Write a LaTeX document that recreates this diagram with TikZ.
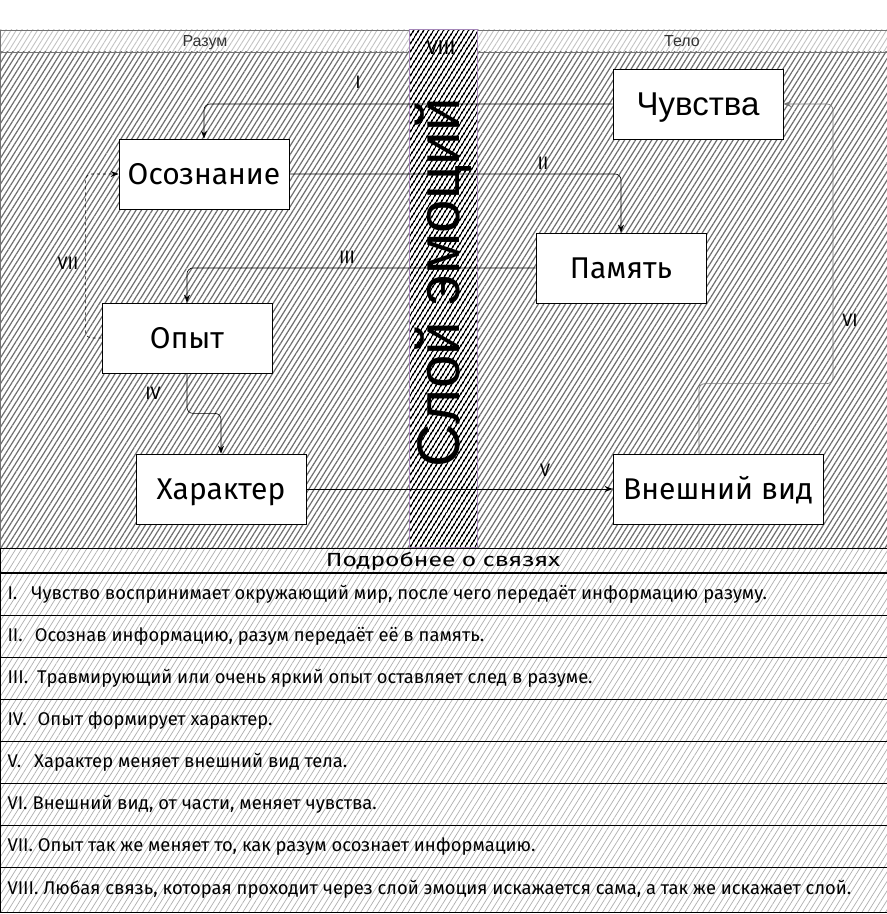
\documentclass[tikz,border=0pt]{standalone}
\usepackage{fontspec}
\setmainfont{Fira Sans}
\newfontfamily\arialfont{Liberation Sans}
\usepackage{tikz}
\usetikzlibrary{arrows.meta,positioning,patterns.meta,calc}
\definecolor{HatchGray}{RGB}{110,110,110}
\definecolor{HeadGray}{RGB}{195,195,195}
\definecolor{TableGray}{RGB}{175,175,175}
\definecolor{FrameGray}{RGB}{115,115,115}
\definecolor{LayerPurple}{RGB}{165,135,185}

\tikzset{
  hatchbody/.style={pattern={Lines[angle=58,distance=4.6pt,line width=1.2pt]}, pattern color=HatchGray},
  hatchhead/.style={pattern={Lines[angle=58,distance=4.5pt,line width=0.9pt]}, pattern color=HeadGray},
  hatchlayer/.style={pattern={Lines[angle=58,distance=4pt,line width=1.6pt]}, pattern color=black},
  hatchtable/.style={pattern={Lines[angle=58,distance=5pt,line width=0.7pt]}, pattern color=TableGray},
  box/.style={draw=black, line width=0.8pt, fill=white, minimum width=170pt,
    minimum height=70pt, inner sep=0pt, text height=21pt, text depth=0pt,
    font=\fontsize{30}{36}\selectfont},
  link/.style={-{Stealth[length=8pt,width=6pt]}, line width=0.6pt, rounded corners=6pt},
  numlabel/.style={font=\fontsize{18}{20}\selectfont},
  headtext/.style={anchor=base, font=\arialfont\fontsize{16}{18}\selectfont, text=black!80},
  rowtext/.style={anchor=west, font=\fontsize{18.4}{20}\selectfont},
}

\begin{document}
\begin{tikzpicture}[x=1pt, y=1pt]
  \useasboundingbox[fill=white] (0,0) rectangle (887,914);
  % Разум / Тело
  \filldraw[hatchhead, draw=FrameGray, line width=0.8pt] (0,862) rectangle (409,884);
  \filldraw[hatchhead, draw=FrameGray, line width=0.8pt] (477,862) rectangle (887,884);
  \filldraw[hatchbody, draw=FrameGray, line width=0.8pt] (0,366) rectangle (409,862);
  \filldraw[hatchbody, draw=FrameGray, line width=0.8pt] (477,366) rectangle (887,862);
  \node[headtext] (razum) at (205,867) {Разум};
  \node[headtext] (telo) at (682,867) {Тело};
  % слой эмоций
  \filldraw[hatchlayer, draw=LayerPurple, line width=1pt] (409,366) rectangle (477,884);

  \node[box] (osozn) at (204,740) {Осознание};
  \node[box, text height=23.5pt, font=\arialfont\fontsize{33}{38}\selectfont] (chuv) at (698,810) {Чувства};
  \node[box] (pamyat) at (621,646) {Память};
  \node[box] (opyt) at (187,576) {Опыт};
  \node[box] (harakter) at (221,425) {Характер};
  \node[box, minimum width=210pt] (vneshn) at (718,425) {Внешний вид};

  \draw[link] (chuv.west) -| (osozn.north);
  \draw[link] (osozn.east) -| (pamyat.north);
  \draw[link] (pamyat.west) -| (opyt.north);
  \draw[link] (opyt.south) -- ++(0,-40) -| (harakter.north);
  \draw[link] (harakter.east) -- (vneshn.west);
  \draw[link, draw=FrameGray] ([xshift=-19pt]vneshn.north) -- ++(0,70) -- ++(134,0) |- (chuv.east);
  \draw[link, dashed] (opyt.west) -- ++(-16,0) |- (osozn.west);

  \node[numlabel] (l1) at (358,832) {I};
  \node[numlabel] (l2) at (543,751) {II};
  \node[numlabel] (l3) at (347,657) {III};
  \node[numlabel] (l4) at (153,521) {IV};
  \node[numlabel] (l5) at (545,444) {V};
  \node[numlabel] (l6) at (850,594) {VI};
  \node[numlabel] (l7) at (68,651) {VII};
  \node[numlabel, font=\fontsize{20}{22}\selectfont] (l8) at (441,866) {VIII};

  \node[rotate=90, font=\arialfont\fontsize{60}{60}\selectfont] (layer) at (443,631) {Слой эмоций};

  % таблица
  \filldraw[hatchtable, draw=black, line width=0.8pt] (0,2) rectangle (887,366);
  \draw[line width=1.4pt] (0,341) -- (887,341);
  \node[font=\fontsize{19}{20}\selectfont] (tabhead) at (443,353) {\scalebox{1.3}[1]{Подробнее о связях}};
  \foreach \k in {1,...,7}
    \draw[line width=0.8pt] (0,{341-42.125*\k}) -- (887,{341-42.125*\k});
  \foreach \txt [count=\k] in {
      {I.\hspace{14pt}Чувство воспринимает окружающий мир, после чего передаёт информацию разуму.},
      {II.\hspace{12pt}Осознав информацию, разум передаёт её в память.},
      {III.\hspace{9pt}Травмирующий или очень яркий опыт оставляет след в разуме.},
      {IV.\hspace{11pt}Опыт формирует характер.},
      {V.\hspace{13pt}Характер меняет внешний вид тела.},
      {VI.\hspace{5pt}Внешний вид, от части, меняет чувства.},
      {VII. Опыт так же меняет то, как разум осознает информацию.},
      {VIII. Любая связь, которая проходит через слой эмоция искажается сама, а так же искажает слой.}}
    \node[rowtext] (row\k) at (4,{362.06-42.125*\k}) {\txt};
\end{tikzpicture}
\end{document}
